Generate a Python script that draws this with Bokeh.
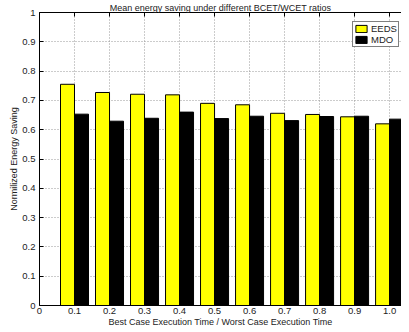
from bokeh.plotting import figure
from bokeh.models import ColumnDataSource, Range1d, LinearAxis, FixedTicker, Legend, LegendItem
from bokeh.transform import dodge
from bokeh.embed import file_html
from bokeh.resources import INLINE

# ---- data ----
ratios = [0.1, 0.2, 0.3, 0.4, 0.5, 0.6, 0.7, 0.8, 0.9, 1.0]
eeds = [0.755, 0.727, 0.721, 0.719, 0.690, 0.685, 0.656, 0.652, 0.644, 0.620]
mdo = [0.653, 0.629, 0.639, 0.660, 0.638, 0.646, 0.631, 0.645, 0.646, 0.636]
x_ticks = [0, 0.1, 0.2, 0.3, 0.4, 0.5, 0.6, 0.7, 0.8, 0.9, 1.0]
x_tick_labels = ["0", "0.1", "0.2", "0.3", "0.4", "0.5", "0.6", "0.7", "0.8", "0.9", "1.0"]
y_ticks = [0, 0.1, 0.2, 0.3, 0.4, 0.5, 0.6, 0.7, 0.8, 0.9, 1.0]
y_tick_labels = ["0", "0.1", "0.2", "0.3", "0.4", "0.5", "0.6", "0.7", "0.8", "0.9", "1"]

FONT = "Liberation Sans"
TXT = "#222222"

src = ColumnDataSource(dict(ratio=ratios, eeds=eeds, mdo=mdo))

p = figure(width=401, height=329,
           x_range=Range1d(0, 1.034), y_range=Range1d(0, 1),
           output_backend="svg", toolbar_location=None,
           min_border_left=39, min_border_right=0,
           min_border_top=11, min_border_bottom=24,
           title="Mean energy saving under different BCET/WCET ratios")
p.outline_line_color = None
p.background_fill_color = "white"
p.border_fill_color = "white"

p.title.text_font = FONT
p.title.text_font_size = "9px"
p.title.text_font_style = "normal"
p.title.text_color = TXT
p.title.align = "center"
p.title.standoff = 0

r1 = p.vbar(x=dodge("ratio", -0.02, range=p.x_range), top="eeds", width=0.04, source=src,
            fill_color="#ffff00", line_color="black", line_width=1)
r2 = p.vbar(x=dodge("ratio", 0.02, range=p.x_range), top="mdo", width=0.04, source=src,
            fill_color="black", line_color="black", line_width=1)

# axes
for ax in (p.xaxis[0], p.yaxis[0]):
    ax.major_tick_in = 4
    ax.major_tick_out = 0
    ax.minor_tick_line_color = None
    ax.axis_line_color = "black"
    ax.major_tick_line_color = "black"
    ax.major_label_text_font = FONT
    ax.major_label_text_font_size = "9.5px"
    ax.major_label_text_color = TXT
    ax.axis_label_text_font = FONT
    ax.axis_label_text_font_size = "9px"
    ax.axis_label_text_font_style = "normal"
    ax.axis_label_text_color = TXT

p.xaxis.ticker = FixedTicker(ticks=x_ticks)
p.xaxis.major_label_overrides = {t: l for t, l in zip(x_ticks, x_tick_labels)}
p.xaxis.axis_label = "Best Case Execution Time / Worst Case Execution Time"
p.xaxis.major_label_standoff = 2
p.xaxis.axis_label_standoff = 0

p.yaxis.ticker = FixedTicker(ticks=y_ticks)
p.yaxis.major_label_overrides = {t: l for t, l in zip(y_ticks, y_tick_labels)}
p.yaxis.axis_label = "Normilized Energy Saving"
p.yaxis.major_label_standoff = 4
p.yaxis.axis_label_standoff = 0

# top border with inward ticks, no labels
top_axis = LinearAxis(ticker=FixedTicker(ticks=x_ticks), major_tick_in=4, major_tick_out=0,
                      minor_tick_line_color=None, major_label_text_font_size="1px",
                      major_label_overrides={t: "" for t in x_ticks},
                      major_label_standoff=0, axis_line_color="black")
p.add_layout(top_axis, "above")

# grid
for g in (p.xgrid[0], p.ygrid[0]):
    g.grid_line_color = "#999999"
    g.grid_line_dash = "1 2"
    g.grid_line_width = 1
p.xgrid.ticker = FixedTicker(ticks=x_ticks)
p.ygrid.ticker = FixedTicker(ticks=y_ticks)

legend = Legend(items=[LegendItem(label="EEDS", renderers=[r1]),
                       LegendItem(label="MDO", renderers=[r2])],
                location=(313, 258))
legend.border_line_color = "black"
legend.border_line_width = 1
legend.background_fill_color = "white"
legend.background_fill_alpha = 1
legend.label_text_font = FONT
legend.label_text_font_size = "9.5px"
legend.label_text_color = TXT
legend.glyph_width = 14
legend.glyph_height = 9
legend.label_height = 9
legend.label_standoff = 3
legend.padding = 1
legend.spacing = 0
legend.margin = 0
p.add_layout(legend)

open("out.html", "w").write(file_html(p, INLINE))
